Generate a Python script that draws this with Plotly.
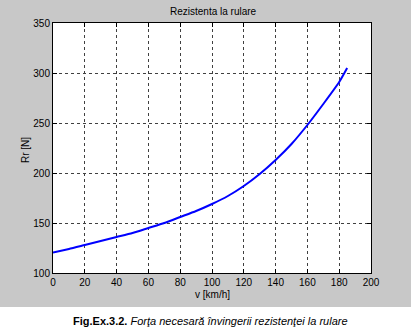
import plotly.graph_objects as go

# Data
v_kmh = [0, 10, 20, 30, 40, 50, 60, 70, 80, 90, 100, 110, 120, 130, 140, 150, 160, 170, 180, 185]
rr_N = [120.5, 124, 128, 132, 136, 140, 145, 150, 156, 162, 169, 177, 187, 199, 213, 229, 248, 269, 291, 305]

x_ticks = [0, 20, 40, 60, 80, 100, 120, 140, 160, 180, 200]
y_ticks = [100, 150, 200, 250, 300, 350]

title_text = "Rezistenta la rulare"
x_title = "v [km/h]"
y_title = "Rr [N]"
caption_bold = "Fig.Ex.3.2."
caption_italic = "Forţa necesară învingerii rezistenţei la rulare"

W, H = 411, 334
L, R, T, B = 53, 40, 23, 61
pw, ph = W - L - R, H - T - B

def px_x(p):
    return (p - L) / pw

def px_y(p):
    return (H - B - p) / ph

font = "Liberation Sans, Arial, Helvetica, sans-serif"

fig = go.Figure()
fig.add_trace(go.Scatter(x=v_kmh, y=rr_N, mode="lines",
                         line=dict(color="#0000ff", width=2, shape="spline", smoothing=0.6),
                         hoverinfo="skip", showlegend=False))

axis_common = dict(showline=True, linecolor="black", linewidth=1, mirror="ticks",
                   ticks="inside", ticklen=4, tickcolor="black",
                   showgrid=True, gridcolor="#404040", griddash="3px,3px", gridwidth=1,
                   zeroline=False, tickfont=dict(family=font, size=10, color="black"))

fig.update_xaxes(range=[0, 200], tickvals=x_ticks, ticktext=[str(t) for t in x_ticks], **axis_common)
fig.update_yaxes(range=[100, 350], tickvals=y_ticks, ticktext=[str(t) for t in y_ticks], **axis_common)

fig.update_layout(
    width=W, height=H,
    margin=dict(l=L, r=R, t=T, b=B, pad=0),
    paper_bgcolor="#c8c8c8",
    plot_bgcolor="white",
    showlegend=False,
    shapes=[dict(type="rect", xref="paper", yref="paper",
                 x0=px_x(-10), x1=px_x(W + 10), y0=px_y(307), y1=px_y(H + 10),
                 fillcolor="white", line=dict(width=0), layer="below")],
    annotations=[
        dict(text=title_text, xref="paper", yref="paper", x=px_x(213), y=px_y(12),
             xanchor="center", yanchor="middle", showarrow=False,
             font=dict(family=font, size=10, color="black")),
        dict(text=x_title, xref="paper", yref="paper", x=px_x(212), y=px_y(294),
             xanchor="center", yanchor="middle", showarrow=False,
             font=dict(family=font, size=10, color="black")),
        dict(text=y_title, xref="paper", yref="paper", x=px_x(25), y=px_y(150),
             xanchor="center", yanchor="middle", showarrow=False, textangle=-90,
             font=dict(family=font, size=10, color="black")),
        dict(text="<b>" + caption_bold + "</b> <i>" + caption_italic + "</i>",
             xref="paper", yref="paper", x=px_x(210), y=px_y(321),
             xanchor="center", yanchor="middle", showarrow=False,
             font=dict(family="Liberation Sans Narrow, Arial Narrow, Liberation Sans, sans-serif",
                       size=11, color="black")),
    ],
)

fig.write_html("out.html")
